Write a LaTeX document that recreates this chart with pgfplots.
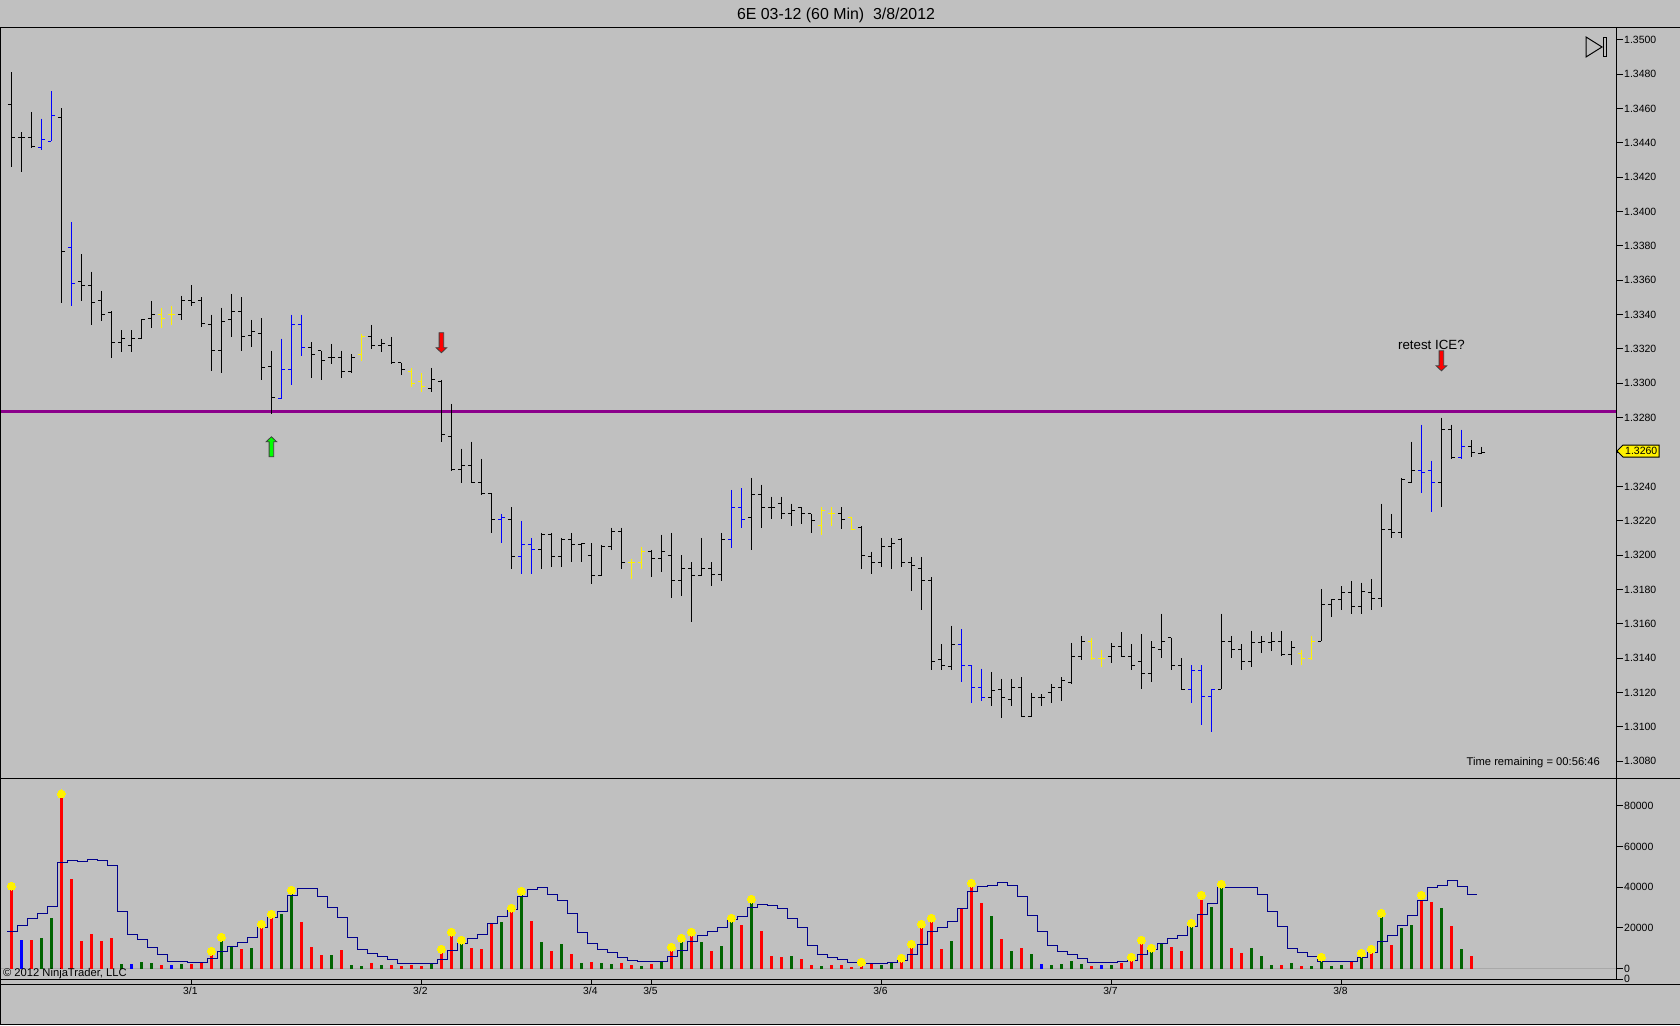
\documentclass[border=0pt]{standalone}
\usepackage{fontspec}
\setmainfont{Liberation Sans}
\usepackage{pgfplots}
\usepackage{pgfplotstable}
\pgfplotsset{compat=1.18}
\definecolor{bg}{HTML}{C0C0C0}
\definecolor{purp}{HTML}{8B008B}
\definecolor{navyl}{HTML}{00008B}
\definecolor{dgreen}{HTML}{006400}
\definecolor{zerol}{HTML}{A9A9A9}
\pgfdeclareplotmark{nil}{}
\pgfdeclareplotmark{ol}{\pgfpathmoveto{\pgfqpoint{-3.6pt}{0pt}}\pgfpathlineto{\pgfqpoint{0pt}{0pt}}\pgfusepathqstroke}
\pgfdeclareplotmark{cl}{\pgfpathmoveto{\pgfqpoint{3.6pt}{0pt}}\pgfpathlineto{\pgfqpoint{0pt}{0pt}}\pgfusepathqstroke}
% arrows: origin at the tip
\pgfdeclareplotmark{dnarrow}{%
 \pgfpathmoveto{\pgfqpoint{0pt}{0pt}}\pgfpathlineto{\pgfqpoint{-5.3pt}{5pt}}\pgfpathlineto{\pgfqpoint{-2.3pt}{5pt}}\pgfpathlineto{\pgfqpoint{-2.3pt}{20pt}}\pgfpathlineto{\pgfqpoint{2.3pt}{20pt}}\pgfpathlineto{\pgfqpoint{2.3pt}{5pt}}\pgfpathlineto{\pgfqpoint{5.3pt}{5pt}}\pgfpathclose\pgfusepathqfillstroke}
\pgfdeclareplotmark{uparrow}{%
 \pgfpathmoveto{\pgfqpoint{0pt}{0pt}}\pgfpathlineto{\pgfqpoint{-5.3pt}{-5pt}}\pgfpathlineto{\pgfqpoint{-2.3pt}{-5pt}}\pgfpathlineto{\pgfqpoint{-2.3pt}{-20pt}}\pgfpathlineto{\pgfqpoint{2.3pt}{-20pt}}\pgfpathlineto{\pgfqpoint{2.3pt}{-5pt}}\pgfpathlineto{\pgfqpoint{5.3pt}{-5pt}}\pgfpathclose\pgfusepathqfillstroke}
\pgfdeclareplotmark{tag}{%
 \pgfpathmoveto{\pgfqpoint{0pt}{0pt}}\pgfpathlineto{\pgfqpoint{6pt}{6pt}}\pgfpathlineto{\pgfqpoint{42pt}{6pt}}\pgfpathlineto{\pgfqpoint{42pt}{-6pt}}\pgfpathlineto{\pgfqpoint{6pt}{-6pt}}\pgfpathclose\pgfusepathqfillstroke}
\pgfplotstableread{
i H L O C c
0 1.3481 1.3426 1.3462 1.3443 0
1 1.3446 1.3423 1.3443 1.3443 0
2 1.3458 1.3437 1.3443 1.3438 0
3 1.3454 1.3436 1.3437 1.3442 1
4 1.3470 1.3441 1.3441 1.3456 1
5 1.3460 1.3347 1.3455 1.3377 0
6 1.3394 1.3345 1.3379 1.3358 1
7 1.3375 1.3348 1.3359 1.3357 0
8 1.3365 1.3334 1.3357 1.3347 0
9 1.3354 1.3336 1.3348 1.3340 0
10 1.3342 1.3315 1.3341 1.3324 0
11 1.3331 1.3318 1.3324 1.3326 0
12 1.3331 1.3318 1.3322 1.3326 0
13 1.3337 1.3326 1.3326 1.3337 0
14 1.3348 1.3332 1.3338 1.3340 0
15 1.3344 1.3332 1.3340 1.3338 2
16 1.3345 1.3334 1.3340 1.3340 2
17 1.3351 1.3337 1.3340 1.3348 0
18 1.3357 1.3345 1.3348 1.3347 0
19 1.3350 1.3333 1.3348 1.3335 0
20 1.3340 1.3307 1.3334 1.3319 0
21 1.3344 1.3306 1.3319 1.3336 0
22 1.3352 1.3327 1.3337 1.3342 0
23 1.3350 1.3319 1.3342 1.3327 0
24 1.3337 1.3321 1.3328 1.3330 0
25 1.3338 1.3302 1.3329 1.3309 0
26 1.3319 1.3282 1.3310 1.3292 0
27 1.3326 1.3291 1.3291 1.3308 1
28 1.3340 1.3299 1.3308 1.3334 1
29 1.3340 1.3316 1.3334 1.3321 1
30 1.3324 1.3303 1.3321 1.3317 0
31 1.3319 1.3302 1.3319 1.3313 0
32 1.3323 1.3311 1.3315 1.3315 0
33 1.3319 1.3303 1.3315 1.3307 0
34 1.3317 1.3306 1.3307 1.3315 0
35 1.3329 1.3313 1.3317 1.3327 2
36 1.3334 1.3320 1.3327 1.3322 0
37 1.3326 1.3318 1.3322 1.3323 0
38 1.3327 1.3311 1.3322 1.3312 0
39 1.3312 1.3305 1.3312 1.3308 0
40 1.3309 1.3298 1.3307 1.3300 2
41 1.3306 1.3295 1.3301 1.3298 2
42 1.3309 1.3295 1.3297 1.3302 0
43 1.3302 1.3266 1.3301 1.3270 0
44 1.3288 1.3249 1.3269 1.3250 0
45 1.3262 1.3242 1.3250 1.3252 0
46 1.3266 1.3242 1.3252 1.3242 0
47 1.3256 1.3235 1.3242 1.3236 0
48 1.3236 1.3213 1.3236 1.3221 0
49 1.3224 1.3207 1.3221 1.3222 1
50 1.3228 1.3192 1.3221 1.3199 0
51 1.3220 1.3189 1.3199 1.3206 1
52 1.3210 1.3189 1.3206 1.3203 1
53 1.3213 1.3192 1.3203 1.3212 0
54 1.3213 1.3193 1.3212 1.3199 0
55 1.3210 1.3193 1.3199 1.3209 0
56 1.3213 1.3196 1.3209 1.3206 0
57 1.3207 1.3196 1.3206 1.3207 0
58 1.3207 1.3183 1.3200 1.3188 0
59 1.3206 1.3188 1.3188 1.3205 0
60 1.3216 1.3203 1.3205 1.3214 0
61 1.3216 1.3192 1.3214 1.3196 0
62 1.3198 1.3186 1.3196 1.3196 2
63 1.3205 1.3192 1.3196 1.3202 2
64 1.3203 1.3187 1.3202 1.3198 0
65 1.3212 1.3190 1.3198 1.3202 0
66 1.3213 1.3175 1.3200 1.3185 0
67 1.3200 1.3176 1.3185 1.3192 0
68 1.3196 1.3161 1.3192 1.3188 0
69 1.3210 1.3188 1.3188 1.3192 0
70 1.3196 1.3182 1.3192 1.3189 0
71 1.3213 1.3185 1.3189 1.3209 0
72 1.3238 1.3204 1.3209 1.3228 1
73 1.3239 1.3216 1.3228 1.3221 1
74 1.3245 1.3203 1.3222 1.3235 0
75 1.3241 1.3216 1.3235 1.3228 0
76 1.3234 1.3221 1.3228 1.3228 0
77 1.3234 1.3221 1.3230 1.3224 0
78 1.3230 1.3217 1.3224 1.3226 0
79 1.3228 1.3218 1.3228 1.3224 0
80 1.3224 1.3213 1.3224 1.3220 0
81 1.3228 1.3212 1.3217 1.3226 2
82 1.3228 1.3217 1.3224 1.3224 2
83 1.3228 1.3215 1.3224 1.3221 0
84 1.3222 1.3215 1.3222 1.3215 2
85 1.3217 1.3192 1.3216 1.3200 0
86 1.3202 1.3189 1.3199 1.3196 0
87 1.3210 1.3193 1.3196 1.3205 0
88 1.3210 1.3192 1.3205 1.3207 0
89 1.3210 1.3193 1.3209 1.3196 0
90 1.3199 1.3179 1.3196 1.3194 0
91 1.3199 1.3168 1.3192 1.3185 0
92 1.3187 1.3133 1.3185 1.3138 0
93 1.3148 1.3133 1.3139 1.3136 0
94 1.3159 1.3133 1.3135 1.3148 0
95 1.3157 1.3126 1.3148 1.3136 1
96 1.3136 1.3114 1.3136 1.3123 1
97 1.3134 1.3115 1.3123 1.3117 1
98 1.3132 1.3112 1.3117 1.3121 0
99 1.3128 1.3105 1.3122 1.3117 0
100 1.3128 1.3112 1.3116 1.3123 0
101 1.3129 1.3106 1.3123 1.3106 0
102 1.3120 1.3106 1.3106 1.3117 0
103 1.3119 1.3112 1.3117 1.3117 0
104 1.3125 1.3114 1.3120 1.3123 0
105 1.3129 1.3115 1.3123 1.3127 0
106 1.3149 1.3125 1.3126 1.3141 0
107 1.3153 1.3139 1.3141 1.3150 0
108 1.3152 1.3139 1.3150 1.3140 2
109 1.3145 1.3135 1.3140 1.3140 2
110 1.3149 1.3137 1.3141 1.3147 0
111 1.3155 1.3141 1.3147 1.3141 0
112 1.3148 1.3133 1.3141 1.3136 0
113 1.3154 1.3122 1.3138 1.3131 0
114 1.3150 1.3126 1.3131 1.3146 0
115 1.3166 1.3140 1.3145 1.3150 0
116 1.3152 1.3133 1.3152 1.3136 0
117 1.3140 1.3122 1.3136 1.3122 0
118 1.3136 1.3114 1.3122 1.3133 1
119 1.3136 1.3101 1.3133 1.3118 1
120 1.3122 1.3097 1.3118 1.3122 1
121 1.3166 1.3122 1.3122 1.3150 0
122 1.3153 1.3140 1.3150 1.3145 0
123 1.3148 1.3133 1.3145 1.3138 0
124 1.3156 1.3135 1.3138 1.3149 0
125 1.3153 1.3143 1.3149 1.3150 0
126 1.3155 1.3144 1.3149 1.3150 0
127 1.3156 1.3141 1.3150 1.3142 0
128 1.3150 1.3136 1.3142 1.3146 0
129 1.3145 1.3136 1.3143 1.3140 2
130 1.3153 1.3139 1.3140 1.3150 2
131 1.3180 1.3150 1.3150 1.3171 0
132 1.3174 1.3164 1.3171 1.3174 0
133 1.3182 1.3168 1.3174 1.3178 0
134 1.3185 1.3166 1.3178 1.3170 0
135 1.3184 1.3166 1.3170 1.3179 0
136 1.3186 1.3168 1.3178 1.3175 0
137 1.3230 1.3170 1.3175 1.3215 0
138 1.3224 1.3210 1.3215 1.3213 0
139 1.3245 1.3210 1.3213 1.3244 0
140 1.3266 1.3242 1.3242 1.3249 0
141 1.3276 1.3236 1.3249 1.3248 1
142 1.3255 1.3225 1.3249 1.3242 1
143 1.3280 1.3228 1.3242 1.3273 0
144 1.3276 1.3256 1.3273 1.3257 0
145 1.3273 1.3256 1.3257 1.3263 1
146 1.3267 1.3257 1.3263 1.3260 0
147 1.3263 1.3259 1.3259 1.3260 0
}\pricedata
\pgfplotstableread{
i v c d s
0 40500 0 1 18200
1 13940 2 0 21150
2 13940 0 0 24600
3 14900 1 0 27060
4 24760 1 0 30500
5 85800 0 1 52150
6 43950 0 0 53100
7 13450 0 0 52600
8 16900 0 0 53600
9 13450 0 0 53100
10 14900 0 0 50700
11 2130 1 0 28000
12 2130 2 0 16700
13 3100 1 0 14300
14 2600 1 0 10300
15 1640 0 0 6900
16 1640 2 0 3440
17 2130 1 0 3440
18 2130 0 0 2950
19 2600 0 0 2950
20 8500 0 1 4900
21 15400 1 1 8360
22 10660 1 0 10800
23 9500 0 0 12800
24 10000 1 0 15250
25 21800 0 1 20200
26 26700 0 1 25100
27 26700 1 0 28000
28 38500 1 1 35900
29 22800 0 0 39400
30 10500 0 0 39400
31 6560 0 0 35400
32 6560 1 0 30000
33 9000 0 0 25100
34 1640 1 0 15250
35 1150 1 0 9350
36 2600 0 0 7400
37 1640 1 0 5900
38 1640 0 0 4430
39 1150 0 0 2460
40 1640 0 0 2460
41 1150 0 0 2460
42 2130 1 0 2460
43 9500 0 1 4430
44 17900 0 1 8860
45 13940 1 1 12300
46 10000 0 0 14760
47 9500 0 0 16700
48 21800 0 0 22100
49 22800 1 0 25600
50 29700 0 1 29000
51 38000 1 1 35400
52 23300 0 0 38900
53 13000 1 0 39850
54 8500 0 0 36400
55 11970 1 0 33450
56 7050 0 0 27060
57 2600 1 0 17700
58 3100 0 0 12300
59 2600 1 0 9350
60 2130 1 0 7870
61 2600 0 0 5400
62 1640 0 0 3940
63 1150 1 0 3440
64 2130 0 0 3440
65 3100 1 0 3440
66 10500 0 1 5900
67 14900 1 1 8860
68 17900 0 1 13300
69 13000 1 0 16240
70 8500 0 0 18200
71 11000 1 0 20200
72 24760 1 1 24100
73 21300 0 0 25600
74 34100 1 1 30000
75 18400 0 0 31500
76 6070 0 0 31000
77 5580 0 0 29500
78 6070 1 0 24600
79 4600 0 0 20200
80 1640 0 0 11300
81 1150 1 0 6900
82 1640 0 0 5400
83 1640 0 0 4430
84 650 0 0 2950
85 3100 0 1 2460
86 2600 0 0 2460
87 1640 1 0 2460
88 2600 1 0 2950
89 5100 0 1 3940
90 12000 0 1 6900
91 21800 0 1 11800
92 24760 0 1 18200
93 9500 0 0 20200
94 13450 1 0 23100
95 29200 0 0 29500
96 42000 0 1 37900
97 32100 0 0 40300
98 25750 1 0 40800
99 14400 0 0 42300
100 8500 1 0 40800
101 10000 0 0 35400
102 7050 1 0 26000
103 2130 2 0 18200
104 1640 1 0 11300
105 2130 1 0 8360
106 3600 1 0 6900
107 2130 1 0 4900
108 1150 0 0 2950
109 1640 2 0 2950
110 1640 1 0 2950
111 2600 0 0 3440
112 5580 0 1 3940
113 13940 0 1 6900
114 10000 1 1 9350
115 12000 1 0 12300
116 10500 0 0 14760
117 8500 0 0 16240
118 22300 1 1 20660
119 36000 0 1 26570
120 30200 1 0 32000
121 41500 1 1 39850
122 10000 0 0 39850
123 7550 0 0 39850
124 10000 1 0 39850
125 6070 1 0 36400
126 1640 1 0 28000
127 1640 0 0 20660
128 2600 1 0 9840
129 1150 0 0 7870
130 1150 1 0 5900
131 5580 1 1 3440
132 1150 1 0 3440
133 1640 1 0 3440
134 3100 0 0 3440
135 7550 1 1 5400
136 9500 0 1 7870
137 27200 1 1 13300
138 11500 0 0 16240
139 19800 1 0 21150
140 21300 1 0 26000
141 36000 0 1 33450
142 32600 0 0 39850
143 29700 1 0 40800
144 20800 0 0 43300
145 9500 1 0 40300
146 6070 0 0 36400
147 nan 9 0 36400
}\voldata
\newcommand\ohlc[2]{%
 \addplot[forget plot,only marks,mark=nil,
   error bars/.cd,y dir=minus,y explicit,error mark=none,
   error bar style={solid,draw=#1,line width=1pt}]
   table[x expr={\thisrow{c}==#2 ? \thisrow{i} : nan},y=H,y error minus expr={\thisrow{H}-\thisrow{L}}]{\pricedata};
 \addplot[forget plot,only marks,mark=ol,mark options={draw=#1,line width=1pt}]
   table[x expr={\thisrow{c}==#2 ? \thisrow{i} : nan},y=O]{\pricedata};
 \addplot[forget plot,only marks,mark=cl,mark options={draw=#1,line width=1pt}]
   table[x expr={\thisrow{c}==#2 ? \thisrow{i} : nan},y=C]{\pricedata};
}
\newcommand\volbars[2]{%
 \addplot[forget plot,ycomb,draw=#1,line width=3pt]
   table[x expr={\thisrow{c}==#2 ? \thisrow{i} : nan},y=v]{\voldata};
}
\newcommand\fs[1]{\fontsize{#1}{#1}\selectfont}
\begin{document}
\begin{tikzpicture}[x=1pt,y=1pt]
\useasboundingbox (0,0) rectangle (1680,1025);
\fill[bg] (0,0) rectangle (1680,1025);
% window frame
\draw[black,line width=1pt] (0,997.3) -- (1680,997.3);
\draw[black,line width=1pt] (0.5,997.3) -- (0.5,0.5) -- (1680,0.5);
\draw[black,line width=1pt] (0,246.5) -- (1680,246.5);
\draw[black,line width=1pt] (0,40.7) -- (1680,40.7);
\node[font=\fs{15.9},anchor=center] at (836,1009.5) {6E 03-12 (60 Min)\ \ 3/8/2012};
\begin{axis}[
 at={(1pt,246pt)},anchor=south west,
 scale only axis,width=1615pt,height=751.3pt,
 xmin=-1.04,xmax=160.46,ymin=1.30697,ymax=1.35070,
 axis x line=none,axis y line=right,axis line style={-,black,line width=1pt},
 tick align=outside,major tick length=7pt,tick style={black,line width=1pt},
 ytick={1.3080,1.3100,1.3120,1.3140,1.3160,1.3180,1.3200,1.3220,1.3240,1.3260,1.3280,1.3300,1.3320,1.3340,1.3360,1.3380,1.3400,1.3420,1.3440,1.3460,1.3480,1.3500},
 scaled y ticks=false,
 yticklabel style={/pgf/number format/fixed,/pgf/number format/fixed zerofill,/pgf/number format/precision=4,/pgf/number format/assume math mode=true,font=\fs{10.5},inner sep=1pt,anchor=west,xshift=0pt},
 clip=false,
]
\addplot[forget plot,purp,line width=3pt] coordinates {(-1.04,1.32837) (160.46,1.32837)};
\ohlc{black}{0}
\ohlc{blue}{1}
\ohlc{yellow}{2}
\node[font=\fs{13.3},anchor=center,inner sep=0pt] at (axis cs:142.0,1.33221) {retest ICE?};
\addplot[forget plot,only marks,mark=dnarrow,mark options={fill=red,draw=black!75,line width=0.8pt}] coordinates {(43,1.33178) (143,1.33073)};
\addplot[forget plot,only marks,mark=uparrow,mark options={fill=green,draw=black!75,line width=0.8pt}] coordinates {(26,1.32689)};
\addplot[forget plot,only marks,mark=tag,mark options={fill=yellow,draw=black,line width=1pt}] coordinates {(160.56,1.32606)};
\node[font=\fs{11.2},anchor=east,inner sep=0pt] at (axis cs:158.86,1.30790) {Time remaining = 00:56:46};
\end{axis}
\begin{axis}[
 at={(1pt,45.7pt)},anchor=south west,
 scale only axis,width=1615pt,height=200.3pt,
 xmin=-1.04,xmax=160.46,ymin=-5310,ymax=93170,
 axis x line=bottom,axis y line=right,axis line style={-,black,line width=1pt},
 tick align=outside,tick style={black,line width=1pt},
 major tick length=7pt,minor tick length=5pt,
 xtick={18,41,58,64,87,110,133},
 minor xtick={18,41,58,64,87,110,133},
 major x tick style={draw=none},
 xticklabels={3/1,3/2,3/4,3/5,3/6,3/7,3/8},
 xticklabel style={font=\fs{10.3},inner sep=0pt,yshift=-1pt,xshift=-1pt},
 ytick={0,20000,40000,60000,80000},
 extra y ticks={-5310},extra y tick labels={0},
 scaled y ticks=false,
 yticklabel style={/pgf/number format/fixed,/pgf/number format/1000 sep={},/pgf/number format/assume math mode=true,font=\fs{10.5},inner sep=1pt,anchor=west},
 clip=false,
]
\addplot[forget plot,zerol,line width=1pt] coordinates {(-1.04,0) (160.46,0)};
\addplot[forget plot,only marks,mark=*,mark size=4pt,mark options={draw=yellow,fill=yellow,line width=0pt}]
  table[x expr={\thisrow{d}==1 ? \thisrow{i} : nan},y=v]{\voldata};
\volbars{red}{0}
\volbars{dgreen}{1}
\volbars{blue}{2}
\addplot[forget plot,const plot,navyl,line width=1pt] table[x expr={\thisrow{i}-0.43},y=s]{\voldata};
\node[font=\fs{11.2},anchor=west,inner sep=0pt] at (axis cs:-0.85,-2400) {© 2012 NinjaTrader, LLC};
\end{axis}
% last-price tag text, chart-trader toggle icon
\node[font=\fs{10.5},anchor=west,inner sep=0pt] at (1625,574) {1.3260};
\draw[black,line width=1pt] (1586,988) -- (1602,978) -- (1586,968) -- cycle;
\draw[black,line width=1pt] (1603.5,987.5) rectangle (1606.7,968);
\end{tikzpicture}
\end{document}
